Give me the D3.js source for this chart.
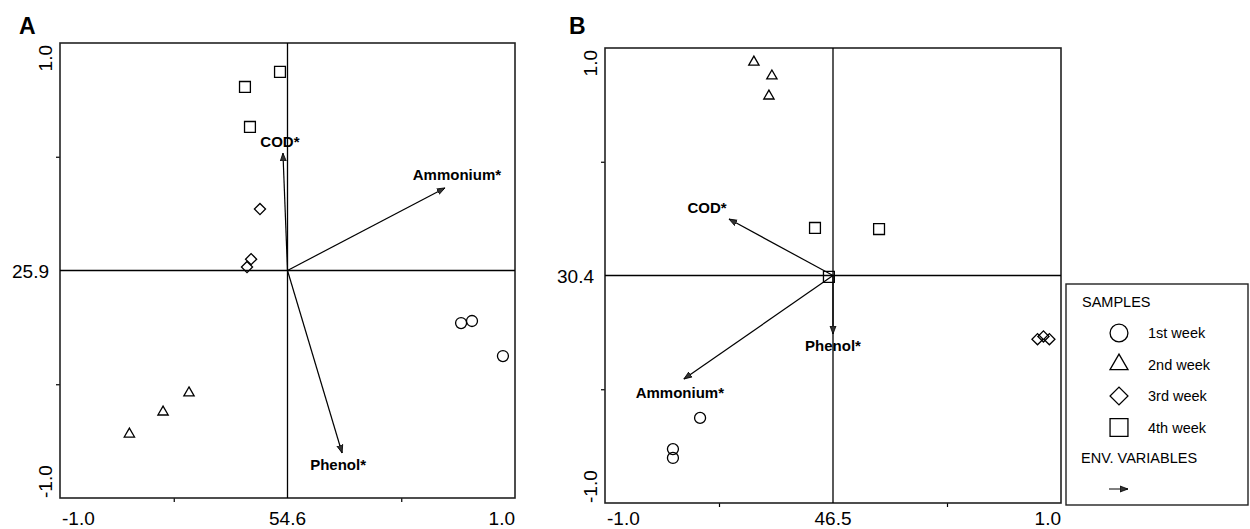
<!DOCTYPE html>
<html>
<head>
<meta charset="utf-8">
<script src="https://cdn.jsdelivr.net/npm/d3@7"></script>
<style>
  body { margin: 0; background: #fff; }
  svg { display: block; font-family: "Liberation Sans", Arial, sans-serif; }
</style>
</head>
<body>
<div id="chart"></div>
<script>
// ---- data (ordination scores, axis range -1..1) ----
const weeks = ["1st week", "2nd week", "3rd week", "4th week"];

const samplesA = [
  {week: 0, x: 0.763, y: -0.231}, {week: 0, x: 0.811, y: -0.222}, {week: 0, x: 0.947, y: -0.376},
  {week: 1, x: -0.433, y: -0.538}, {week: 1, x: -0.547, y: -0.622}, {week: 1, x: -0.695, y: -0.719},
  {week: 2, x: -0.121, y: 0.270}, {week: 2, x: -0.160, y: 0.050}, {week: 2, x: -0.178, y: 0.015},
  {week: 3, x: -0.033, y: 0.873}, {week: 3, x: -0.187, y: 0.807}, {week: 3, x: -0.165, y: 0.631}
];
const samplesB = [
  {week: 0, x: -0.583, y: -0.626}, {week: 0, x: -0.702, y: -0.763}, {week: 0, x: -0.702, y: -0.802},
  {week: 1, x: -0.347, y: 0.938}, {week: 1, x: -0.268, y: 0.877}, {week: 1, x: -0.281, y: 0.789},
  {week: 2, x: 0.897, y: -0.280}, {week: 2, x: 0.923, y: -0.268}, {week: 2, x: 0.949, y: -0.280},
  {week: 3, x: -0.079, y: 0.209}, {week: 3, x: 0.202, y: 0.204}, {week: 3, x: -0.018, y: -0.006}
];

const envA = [
  {name: "COD*", x: -0.020, y: 0.516},
  {name: "Ammonium*", x: 0.692, y: 0.363},
  {name: "Phenol*", x: 0.240, y: -0.802}
];
const envB = [
  {name: "COD*", x: -0.456, y: 0.248},
  {name: "Phenol*", x: 0.000, y: -0.257},
  {name: "Ammonium*", x: -0.654, y: -0.455}
];

const xLabelsA = ["-1.0", "54.6", "1.0"];
const yLabelsA = ["-1.0", "25.9", "1.0"];
const xLabelsB = ["-1.0", "46.5", "1.0"];
const yLabelsB = ["-1.0", "30.4", "1.0"];

// ---- drawing ----
const width = 1250, height = 529;
const svg = d3.select("#chart").append("svg")
    .attr("width", width).attr("height", height);

svg.append("defs").append("marker")
    .attr("id", "arrow")
    .attr("viewBox", "0 -4 9 8")
    .attr("refX", 8).attr("refY", 0)
    .attr("markerWidth", 9).attr("markerHeight", 8)
    .attr("markerUnits", "userSpaceOnUse")
    .attr("orient", "auto")
    .append("path")
    .attr("d", "M0,-3L8,0L0,3Z")
    .style("fill", "#333").style("stroke", "#000").style("stroke-width", 0.8);

const shapes = [
  () => d3.symbol(d3.symbolCircle, 95)(),
  () => d3.symbol(d3.symbolTriangle, 46)(),
  () => d3.symbol(d3.symbolSquare, 62)(),
  () => d3.symbol(d3.symbolSquare, 118)()
];
const legendShapes = [
  () => d3.symbol(d3.symbolCircle, 250)(),
  () => d3.symbol(d3.symbolTriangle, 140)(),
  () => d3.symbol(d3.symbolSquare, 160)(),
  () => d3.symbol(d3.symbolSquare, 320)()
];
const rot = (w) => (w === 2 ? " rotate(45)" : "");

// label offsets relative to arrow tip (style only)
const labelOffsetA = {"COD*": [-3, -6], "Ammonium*": [12, -8], "Phenol*": [-4, 17]};
const labelOffsetB = {"COD*": [-22, -6], "Phenol*": [0, 17], "Ammonium*": [-4, 19]};

function drawPanel(opts) {
  const x = d3.scaleLinear().domain([-1, 1]).range([opts.left, opts.right]);
  const y = d3.scaleLinear().domain([-1, 1]).range([opts.bottom, opts.top]);
  const g = svg.append("g");

  // ticks
  g.append("g")
      .attr("transform", "translate(0," + opts.bottom + ")")
      .call(d3.axisBottom(x).tickValues([-0.5, 0.5]).tickSize(4).tickFormat(""))
      .call(a => a.select(".domain").remove());
  g.append("g")
      .attr("transform", "translate(" + opts.left + ",0)")
      .call(d3.axisLeft(y).tickValues([-0.5, 0.5]).tickSize(4).tickFormat(""))
      .call(a => a.select(".domain").remove());
  g.selectAll(".tick line").style("stroke", "#000").style("stroke-width", 1.2);

  // frame
  g.append("rect")
      .attr("x", x(-1)).attr("y", y(1))
      .attr("width", x(1) - x(-1)).attr("height", y(-1) - y(1))
      .style("fill", "none").style("stroke", "#222").style("stroke-width", 1.6);

  // centre cross
  g.append("line")
      .attr("x1", x(0)).attr("x2", x(0)).attr("y1", y(1)).attr("y2", y(-1))
      .style("stroke", "#000").style("stroke-width", 1.3);
  g.append("line")
      .attr("x1", x(-1)).attr("x2", x(1)).attr("y1", y(0)).attr("y2", y(0))
      .style("stroke", "#000").style("stroke-width", 1.3);

  // x tick labels
  const xl = opts.xLabels;
  [[-1, "start", 2], [0, "middle", 0], [1, "end", 0]].forEach((p, i) => {
    g.append("text")
        .attr("x", x(p[0]) + p[2]).attr("y", 525)
        .attr("text-anchor", p[1])
        .style("font-size", "19px")
        .text(xl[i]);
  });
  // y tick labels
  const yl = opts.yLabels;
  g.append("text")
      .attr("transform", "translate(" + (opts.left - 8) + "," + y(-1) + ") rotate(-90)")
      .attr("text-anchor", "start")
      .style("font-size", "19px")
      .text(yl[0]);
  g.append("text")
      .attr("x", opts.left - 11).attr("y", y(0) + 7)
      .attr("text-anchor", "end")
      .style("font-size", "19px")
      .text(yl[1]);
  g.append("text")
      .attr("transform", "translate(" + (opts.left - 8) + "," + (y(1) + 2) + ") rotate(-90)")
      .attr("text-anchor", "end")
      .style("font-size", "19px")
      .text(yl[2]);

  // panel letter
  g.append("text")
      .attr("x", opts.letterX).attr("y", 34)
      .style("font-size", "23px").style("font-weight", "bold")
      .text(opts.letter);

  // env arrows
  g.selectAll(".env")
      .data(opts.env)
      .enter()
      .append("line")
      .attr("x1", x(0)).attr("y1", y(0))
      .attr("x2", d => x(d.x)).attr("y2", d => y(d.y))
      .style("stroke", "#000").style("stroke-width", 1.2)
      .attr("marker-end", "url(#arrow)");
  g.selectAll(".envlabel")
      .data(opts.env)
      .enter()
      .append("text")
      .attr("x", d => x(d.x) + opts.offsets[d.name][0])
      .attr("y", d => y(d.y) + opts.offsets[d.name][1])
      .attr("text-anchor", "middle")
      .style("font-size", "15px").style("font-weight", "bold")
      .text(d => d.name);

  // samples
  g.selectAll(".sample")
      .data(opts.samples)
      .enter()
      .append("path")
      .attr("d", d => shapes[d.week]())
      .attr("transform", d => "translate(" + x(d.x) + "," + y(d.y) + ")" + rot(d.week))
      .style("fill", "none").style("stroke", "#000").style("stroke-width", 1.3);
}

drawPanel({left: 60, right: 515, top: 43, bottom: 498, letter: "A", letterX: 19,
  samples: samplesA, env: envA, offsets: labelOffsetA, xLabels: xLabelsA, yLabels: yLabelsA});
drawPanel({left: 605, right: 1061, top: 48, bottom: 503, letter: "B", letterX: 569,
  samples: samplesB, env: envB, offsets: labelOffsetB, xLabels: xLabelsB, yLabels: yLabelsB});

// legend
const lg = svg.append("g");
lg.append("rect")
    .attr("x", 1066).attr("y", 284).attr("width", 182).attr("height", 221)
    .style("fill", "#fff").style("stroke", "#222").style("stroke-width", 1.4);
lg.append("text").attr("x", 1082).attr("y", 307)
    .style("font-size", "14.5px").text("SAMPLES");
const items = lg.selectAll(".item")
    .data(weeks)
    .enter()
    .append("g")
    .attr("transform", (d, i) => "translate(1119," + (333 + i * 31.5) + ")");
items.append("path")
    .attr("d", (d, i) => legendShapes[i]())
    .attr("transform", (d, i) => rot(i))
    .style("fill", "none").style("stroke", "#000").style("stroke-width", 1.3);
items.append("text")
    .attr("x", 29).attr("y", 5)
    .style("font-size", "14.5px")
    .text(d => d);
lg.append("text").attr("x", 1081).attr("y", 463)
    .style("font-size", "14.5px").text("ENV. VARIABLES");
lg.append("line")
    .attr("x1", 1109).attr("y1", 489).attr("x2", 1128).attr("y2", 489)
    .style("stroke", "#000").style("stroke-width", 1)
    .attr("marker-end", "url(#arrow)");
</script>
</body>
</html>
